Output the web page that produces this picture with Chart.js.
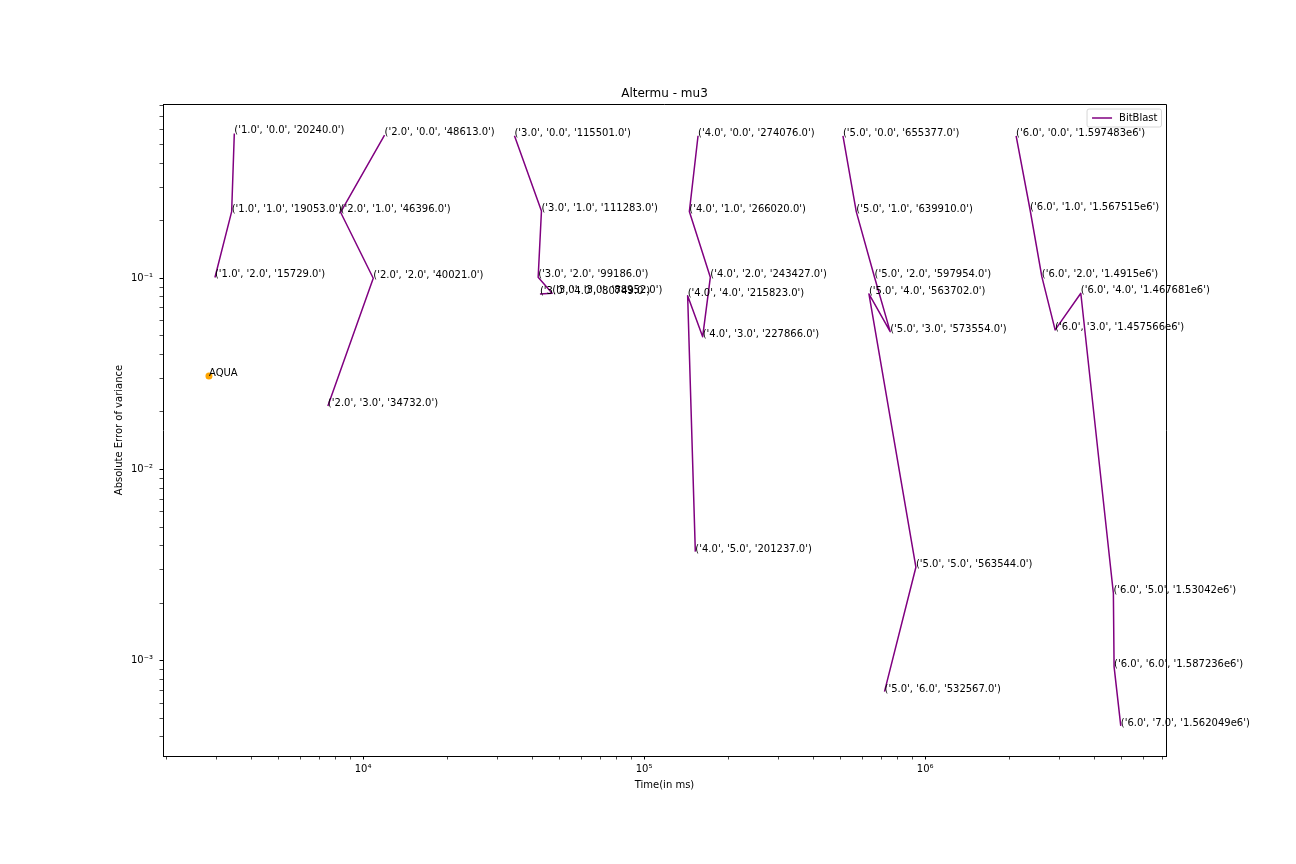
<!DOCTYPE html>
<html><head><meta charset="utf-8">
<script src="https://cdn.jsdelivr.net/npm/chart.js@4.4.1/dist/chart.umd.min.js"></script>
<style>html,body{margin:0;padding:0;background:#fff;}canvas{display:block;}</style>
</head><body>
<canvas id="c" width="1296" height="864"></canvas>
<script>
// ---- data ----
const g1Time = [3483, 3408, 2972];
const g1Err  = [0.572, 0.223, 0.101];
const g1Lbl  = ["('1.0', '0.0', '20240.0')", "('1.0', '1.0', '19053.0')", "('1.0', '2.0', '15729.0')"];

const g2Time = [11925, 8318, 10872, 7496];
const g2Err  = [0.561, 0.2214, 0.1, 0.0215];
const g2Lbl  = ["('2.0', '0.0', '48613.0')", "('2.0', '1.0', '46396.0')", "('2.0', '2.0', '40021.0')", "('2.0', '3.0', '34732.0')"];

const g3Time = [34570, 43123, 41975, 47069, 42590];
const g3Err  = [0.556, 0.2249, 0.1012, 0.0835, 0.0828];
const g3Lbl  = ["('3.0', '0.0', '115501.0')", "('3.0', '1.0', '111283.0')", "('3.0', '2.0', '99186.0')", "('3.0', '3.0', '88952.0')", "('3.0', '4.0', '80749.0')"];

const g4Time = [155540, 144850, 172000, 161540, 142840, 152110];
const g4Err  = [0.556, 0.2232, 0.1012, 0.0495, 0.0811, 0.003724];
const g4Lbl  = ["('4.0', '0.0', '274076.0')", "('4.0', '1.0', '266020.0')", "('4.0', '2.0', '243427.0')", "('4.0', '3.0', '227866.0')", "('4.0', '4.0', '215823.0')", "('4.0', '5.0', '201237.0')"];

const g5Time = [509800, 568500, 660300, 750800, 630700, 926600, 716400];
const g5Err  = [0.556, 0.2232, 0.1012, 0.0526, 0.0828, 0.003086, 0.00069];
const g5Lbl  = ["('5.0', '0.0', '655377.0')", "('5.0', '1.0', '639910.0')", "('5.0', '2.0', '597954.0')", "('5.0', '3.0', '573554.0')", "('5.0', '4.0', '563702.0')", "('5.0', '5.0', '563544.0')", "('5.0', '6.0', '532567.0')"];

const g6Time = [2106000, 2362000, 2600000, 2899000, 3578000, 4672000, 4699000, 4964000];
const g6Err  = [0.556, 0.2275, 0.102, 0.0537, 0.0835, 0.002257, 0.000932, 0.000457];
const g6Lbl  = ["('6.0', '0.0', '1.597483e6')", "('6.0', '1.0', '1.567515e6')", "('6.0', '2.0', '1.4915e6')", "('6.0', '3.0', '1.457566e6')", "('6.0', '4.0', '1.467681e6')", "('6.0', '5.0', '1.53042e6')", "('6.0', '6.0', '1.587236e6')", "('6.0', '7.0', '1.562049e6')"];

const aquaTime = [2830];
const aquaErr  = [0.0308];
const aquaLbl  = ["AQUA"];

const xMajor = [1e4, 1e5, 1e6];
const xMajorLabels = ["10\u2074", "10\u2075", "10\u2076"];
const yMajor = [1e-3, 1e-2, 1e-1];
const yMajorLabels = ["10\u207B\u00B3", "10\u207B\u00B2", "10\u207B\u00B9"];

const xMin = 1942, xMax = 7.19e6;
const yMin = 3.18e-4, yMax = 0.815;

// ---- build ----
const groups = [
  {t: g1Time, e: g1Err, l: g1Lbl},
  {t: g2Time, e: g2Err, l: g2Lbl},
  {t: g3Time, e: g3Err, l: g3Lbl},
  {t: g4Time, e: g4Err, l: g4Lbl},
  {t: g5Time, e: g5Err, l: g5Lbl},
  {t: g6Time, e: g6Err, l: g6Lbl}
];
const FONT = '"DejaVu Sans", sans-serif';
const PURPLE = '#800080';

function logTicks(min, max, majors) {
  const out = [];
  const lo = Math.floor(Math.log10(min)), hi = Math.ceil(Math.log10(max));
  for (let e = lo; e <= hi; e++) {
    for (let m = 1; m <= 9; m++) {
      const v = parseFloat((m * Math.pow(10, e)).toPrecision(6));
      if (v >= min && v <= max) out.push({value: v, major: m === 1});
    }
  }
  return out;
}
function labelFor(v, majors, labels) {
  for (let i = 0; i < majors.length; i++) {
    if (Math.abs(v / majors[i] - 1) < 1e-6) return labels[i];
  }
  return '';
}

const datasets = groups.map(g => ({
  label: 'BitBlast',
  data: g.t.map((t, i) => ({x: t, y: g.e[i]})),
  showLine: true,
  borderColor: PURPLE,
  backgroundColor: PURPLE,
  borderWidth: 1.5,
  borderJoinStyle: 'round',
  pointRadius: 0,
  pointHoverRadius: 0,
  fill: false,
  tension: 0
}));
datasets.push({
  label: 'AQUA',
  data: aquaTime.map((t, i) => ({x: t, y: aquaErr[i]})),
  showLine: false,
  pointRadius: 3.5,
  pointBackgroundColor: '#ffa500',
  pointBorderWidth: 0,
  borderColor: '#ffa500',
  backgroundColor: '#ffa500'
});

const annotPlugin = {
  id: 'annot',
  afterDatasetsDraw(chart) {
    const ctx = chart.ctx, xs = chart.scales.x, ys = chart.scales.y;
    ctx.save();
    ctx.font = '10px ' + FONT;
    ctx.fillStyle = '#000';
    ctx.textAlign = 'left';
    ctx.textBaseline = 'alphabetic';
    groups.forEach(g => g.t.forEach((t, i) => {
      ctx.fillText(g.l[i], xs.getPixelForValue(t), ys.getPixelForValue(g.e[i]));
    }));
    aquaTime.forEach((t, i) => {
      ctx.fillText(aquaLbl[i], xs.getPixelForValue(t), ys.getPixelForValue(aquaErr[i]));
    });
    ctx.restore();
  }
};

const framePlugin = {
  id: 'frame',
  afterDatasetsDraw(chart) {
    const a = chart.chartArea, ctx = chart.ctx;
    ctx.save();
    ctx.strokeStyle = '#000';
    ctx.lineWidth = 1;
    ctx.beginPath();
    ctx.moveTo(a.left, a.top + 0.5);
    ctx.lineTo(a.right + 0.5, a.top + 0.5);
    ctx.lineTo(a.right + 0.5, a.bottom);
    ctx.stroke();
    ctx.restore();
  }
};

const legendPlugin = {
  id: 'mplLegend',
  afterDraw(chart) {
    const a = chart.chartArea, ctx = chart.ctx;
    ctx.save();
    ctx.font = '10px ' + FONT;
    const text = 'BitBlast';
    const tw = ctx.measureText(text).width;
    const right = a.right - 4.5, top = a.top + 5;
    const w = 4 + 20 + 8 + tw + 4, h = 18;
    const left = right - w;
    ctx.beginPath();
    if (ctx.roundRect) ctx.roundRect(left, top, w, h, 2); else ctx.rect(left, top, w, h);
    ctx.fillStyle = 'rgba(255,255,255,0.8)';
    ctx.fill();
    ctx.strokeStyle = '#d6d6d6';
    ctx.lineWidth = 1;
    ctx.stroke();
    const cy = top + h / 2;
    ctx.strokeStyle = PURPLE;
    ctx.lineWidth = 1.5;
    ctx.beginPath();
    ctx.moveTo(left + 5, cy);
    ctx.lineTo(left + 25, cy);
    ctx.stroke();
    ctx.fillStyle = '#000';
    ctx.textAlign = 'left';
    ctx.textBaseline = 'middle';
    ctx.fillText(text, left + 32, cy);
    ctx.restore();
  }
};

new Chart(document.getElementById('c'), {
  type: 'scatter',
  data: {datasets},
  plugins: [annotPlugin, framePlugin, legendPlugin],
  options: {
    responsive: false,
    animation: false,
    devicePixelRatio: 1,
    layout: {padding: {left: 0, right: 130, top: 0, bottom: 0}},
    plugins: {
      legend: {display: false},
      tooltip: {enabled: false},
      title: {
        display: true,
        fullSize: false,
        text: 'Altermu - mu3',
        color: '#000',
        font: {family: FONT, size: 12, weight: 'normal', lineHeight: 1.2},
        padding: {top: 86.6, bottom: 3}
      }
    },
    scales: {
      x: {
        type: 'logarithmic',
        position: 'bottom',
        min: xMin, max: xMax,
        bounds: 'data',
        afterBuildTicks: s => { s.ticks = logTicks(xMin, xMax, xMajor); },
        afterFit: s => { s.height = 108; },
        ticks: {
          autoSkip: false, maxRotation: 0, minRotation: 0,
          padding: 3.5, color: '#000',
          font: {family: FONT, size: 10},
          callback: v => labelFor(v, xMajor, xMajorLabels)
        },
        grid: {
          display: true, drawOnChartArea: false, drawTicks: true,
          tickLength: 3.5, tickColor: '#000',
          tickWidth: c => (c.tick && c.tick.major) ? 1 : 0.7
        },
        border: {display: true, color: '#000', width: 1},
        title: {
          display: true, text: 'Time(in ms)', color: '#000',
          font: {family: FONT, size: 10, lineHeight: 1.2},
          padding: {top: 0, bottom: 73}
        }
      },
      y: {
        type: 'logarithmic',
        position: 'left',
        min: yMin, max: yMax,
        bounds: 'data',
        afterBuildTicks: s => { s.ticks = logTicks(yMin, yMax, yMajor); },
        afterFit: s => { s.width = 163; },
        ticks: {
          autoSkip: false, padding: 6.5, color: '#000',
          font: {family: FONT, size: 10},
          callback: v => labelFor(v, yMajor, yMajorLabels)
        },
        grid: {
          display: true, drawOnChartArea: false, drawTicks: true,
          tickLength: 3.5, tickColor: '#000',
          tickWidth: c => (c.tick && c.tick.major) ? 1 : 0.7
        },
        border: {display: true, color: '#000', width: 1},
        title: {
          display: true, text: 'Absolute Error of variance', color: '#000',
          font: {family: FONT, size: 10, lineHeight: 1.2},
          padding: {top: 113, bottom: 0}
        }
      }
    }
  }
});
</script>
</body></html>
